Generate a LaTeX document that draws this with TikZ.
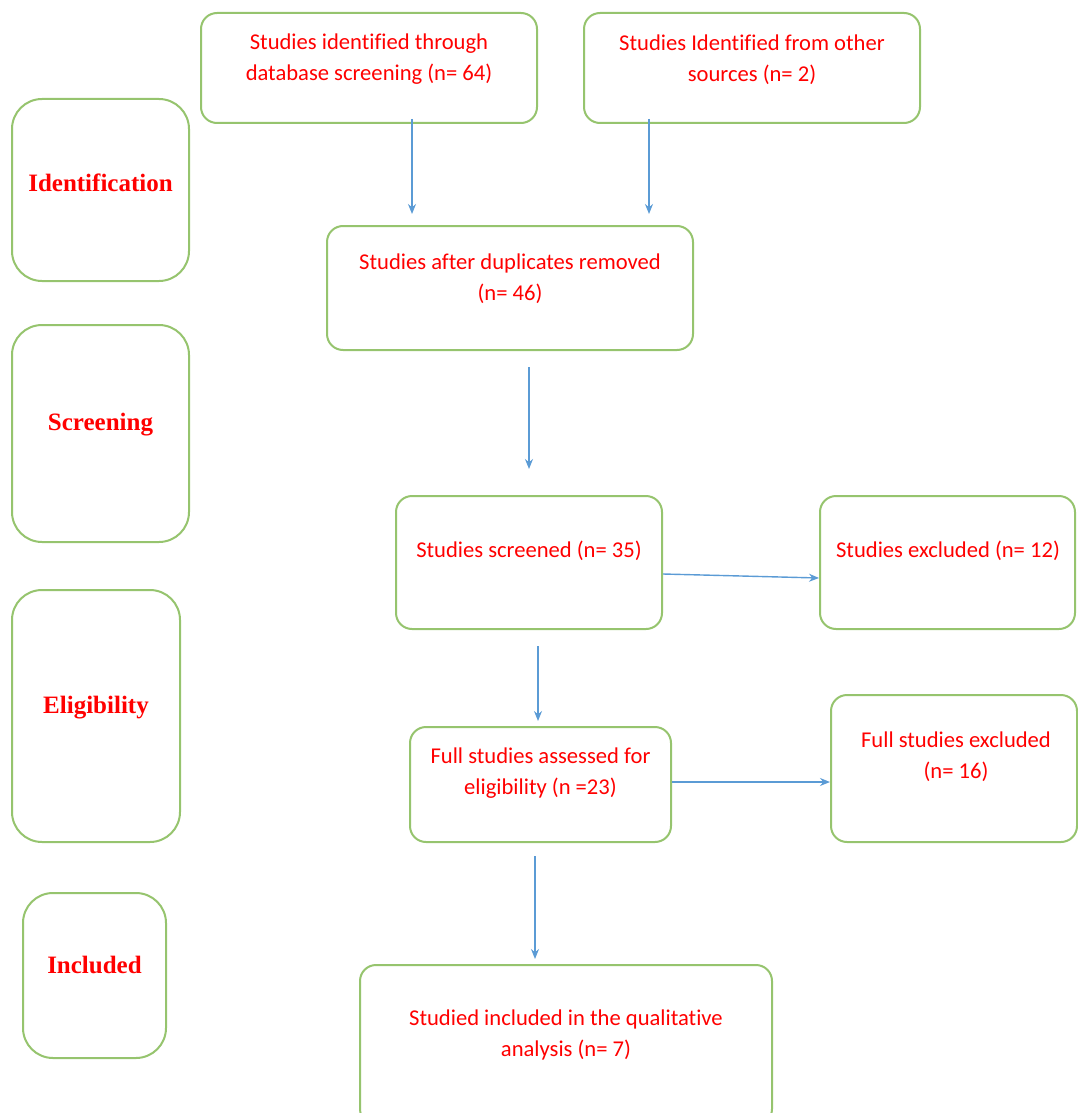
\documentclass[tikz,border=0pt]{standalone}
\usepackage{fontspec}
\setmainfont[Ligatures={NoCommon,NoDiscretionary,NoRare}]{Carlito}
\newfontfamily\lblfont{Liberation Serif}
\usetikzlibrary{arrows.meta}
\definecolor{boxgreen}{RGB}{150,196,110}
\definecolor{arrblue}{RGB}{91,155,213}
\definecolor{txtred}{RGB}{255,0,0}
\begin{document}
\begin{tikzpicture}[x=0.5pt,y=-0.5pt,
  box/.style={draw=boxgreen, line width=1pt, rounded corners=8pt, fill=white, inner sep=0pt},
  sidebox/.style={box, rounded corners=15pt},
  txt/.style={text=txtred, align=center, inner sep=0pt, font=\fontsize{11.3}{15.5}\selectfont},
  sidetxt/.style={text=txtred, inner sep=0pt, font=\lblfont\bfseries\fontsize{12.5}{15}\selectfont},
  arr/.style={draw=arrblue, line width=0.7pt, -{Stealth[length=5pt,width=4pt]}}]
\useasboundingbox (0,0) rectangle (1077,1113);
% side boxes
\node[sidebox, minimum width=88.5pt, minimum height=91pt] (S1) at (100.5,190) {};
\node[sidetxt] (S1t) at (100.5,183) {Identification};
\node[sidebox, minimum width=88.5pt, minimum height=108.5pt] (S2) at (100.5,433.5) {};
\node[sidetxt] (S2t) at (100.5,425) {Screening};
\node[sidebox, minimum width=84pt, minimum height=126pt] (S3) at (96,716) {};
\node[sidetxt] (S3t) at (96,708) {Eligibility};
\node[sidebox, minimum width=71.5pt, minimum height=82.5pt] (S4) at (94.5,975.5) {};
\node[sidetxt] (S4t) at (94.5,965) {Included};
% main boxes
\node[box, minimum width=168pt, minimum height=55pt] (A) at (369,68) {};
\node[txt] (At) at (369,59.5) {Studies identified through\\database screening (n= 64)};
\node[box, minimum width=168pt, minimum height=55pt] (B) at (752,68) {};
\node[txt] (Bt) at (752,59.5) {Studies Identified from other\\sources (n= 2)};
\node[box, minimum width=183pt, minimum height=62pt] (C) at (510,288) {};
\node[txt] (Ct) at (510,279) {Studies after duplicates removed\\(n= 46)};
\node[box, minimum width=133pt, minimum height=66.5pt] (D) at (529,562.5) {};
\node[txt] (Dt) at (529,551) {Studies screened (n= 35)};
\node[box, minimum width=127.5pt, minimum height=66.5pt] (E) at (947.5,562.5) {};
\node[txt] (Et) at (948,551) {Studies excluded (n= 12)};
\node[box, minimum width=130.5pt, minimum height=57.5pt] (F) at (540.5,784.5) {};
\node[txt] (Ft) at (540.5,773.5) {Full studies assessed for\\eligibility (n =23)};
\node[box, minimum width=123pt, minimum height=73.5pt] (G) at (954,768.5) {};
\node[txt] (Gt) at (956,757) {Full studies excluded\\(n= 16)};
\node[box, minimum width=206pt, minimum height=80pt] (H) at (566,1045) {};
\node[txt] (Ht) at (566,1034.5) {Studied included in the qualitative\\analysis (n= 7)};
% x positions of vertical arrows
\coordinate (xa) at (412,0);
\coordinate (xb) at (649,0);
\coordinate (xc) at (529,0);
\coordinate (xd) at (538,0);
\coordinate (xf) at (535,0);
% arrows
\draw[arr, shorten <=-2.5pt, shorten >=5.5pt] (A.south -| xa) -- (C.north -| xa);
\draw[arr, shorten <=-2.5pt, shorten >=5.5pt] (B.south -| xb) -- (C.north -| xb);
\draw[arr, shorten <=8pt, shorten >=13pt] (C.south -| xc) -- (D.north -| xc);
\draw[arr] ([yshift=-5.75pt]D.east) -- ([yshift=-7.75pt]E.west);
\draw[arr, shorten <=8pt, shorten >=2.5pt] (D.south -| xd) -- (F.north -| xd);
\draw[arr] ([yshift=1.25pt]F.east) -- ([yshift=-6.75pt]G.west);
\draw[arr, shorten <=6.5pt, shorten >=2.5pt] (F.south -| xf) -- (H.north -| xf);
\end{tikzpicture}
\end{document}
